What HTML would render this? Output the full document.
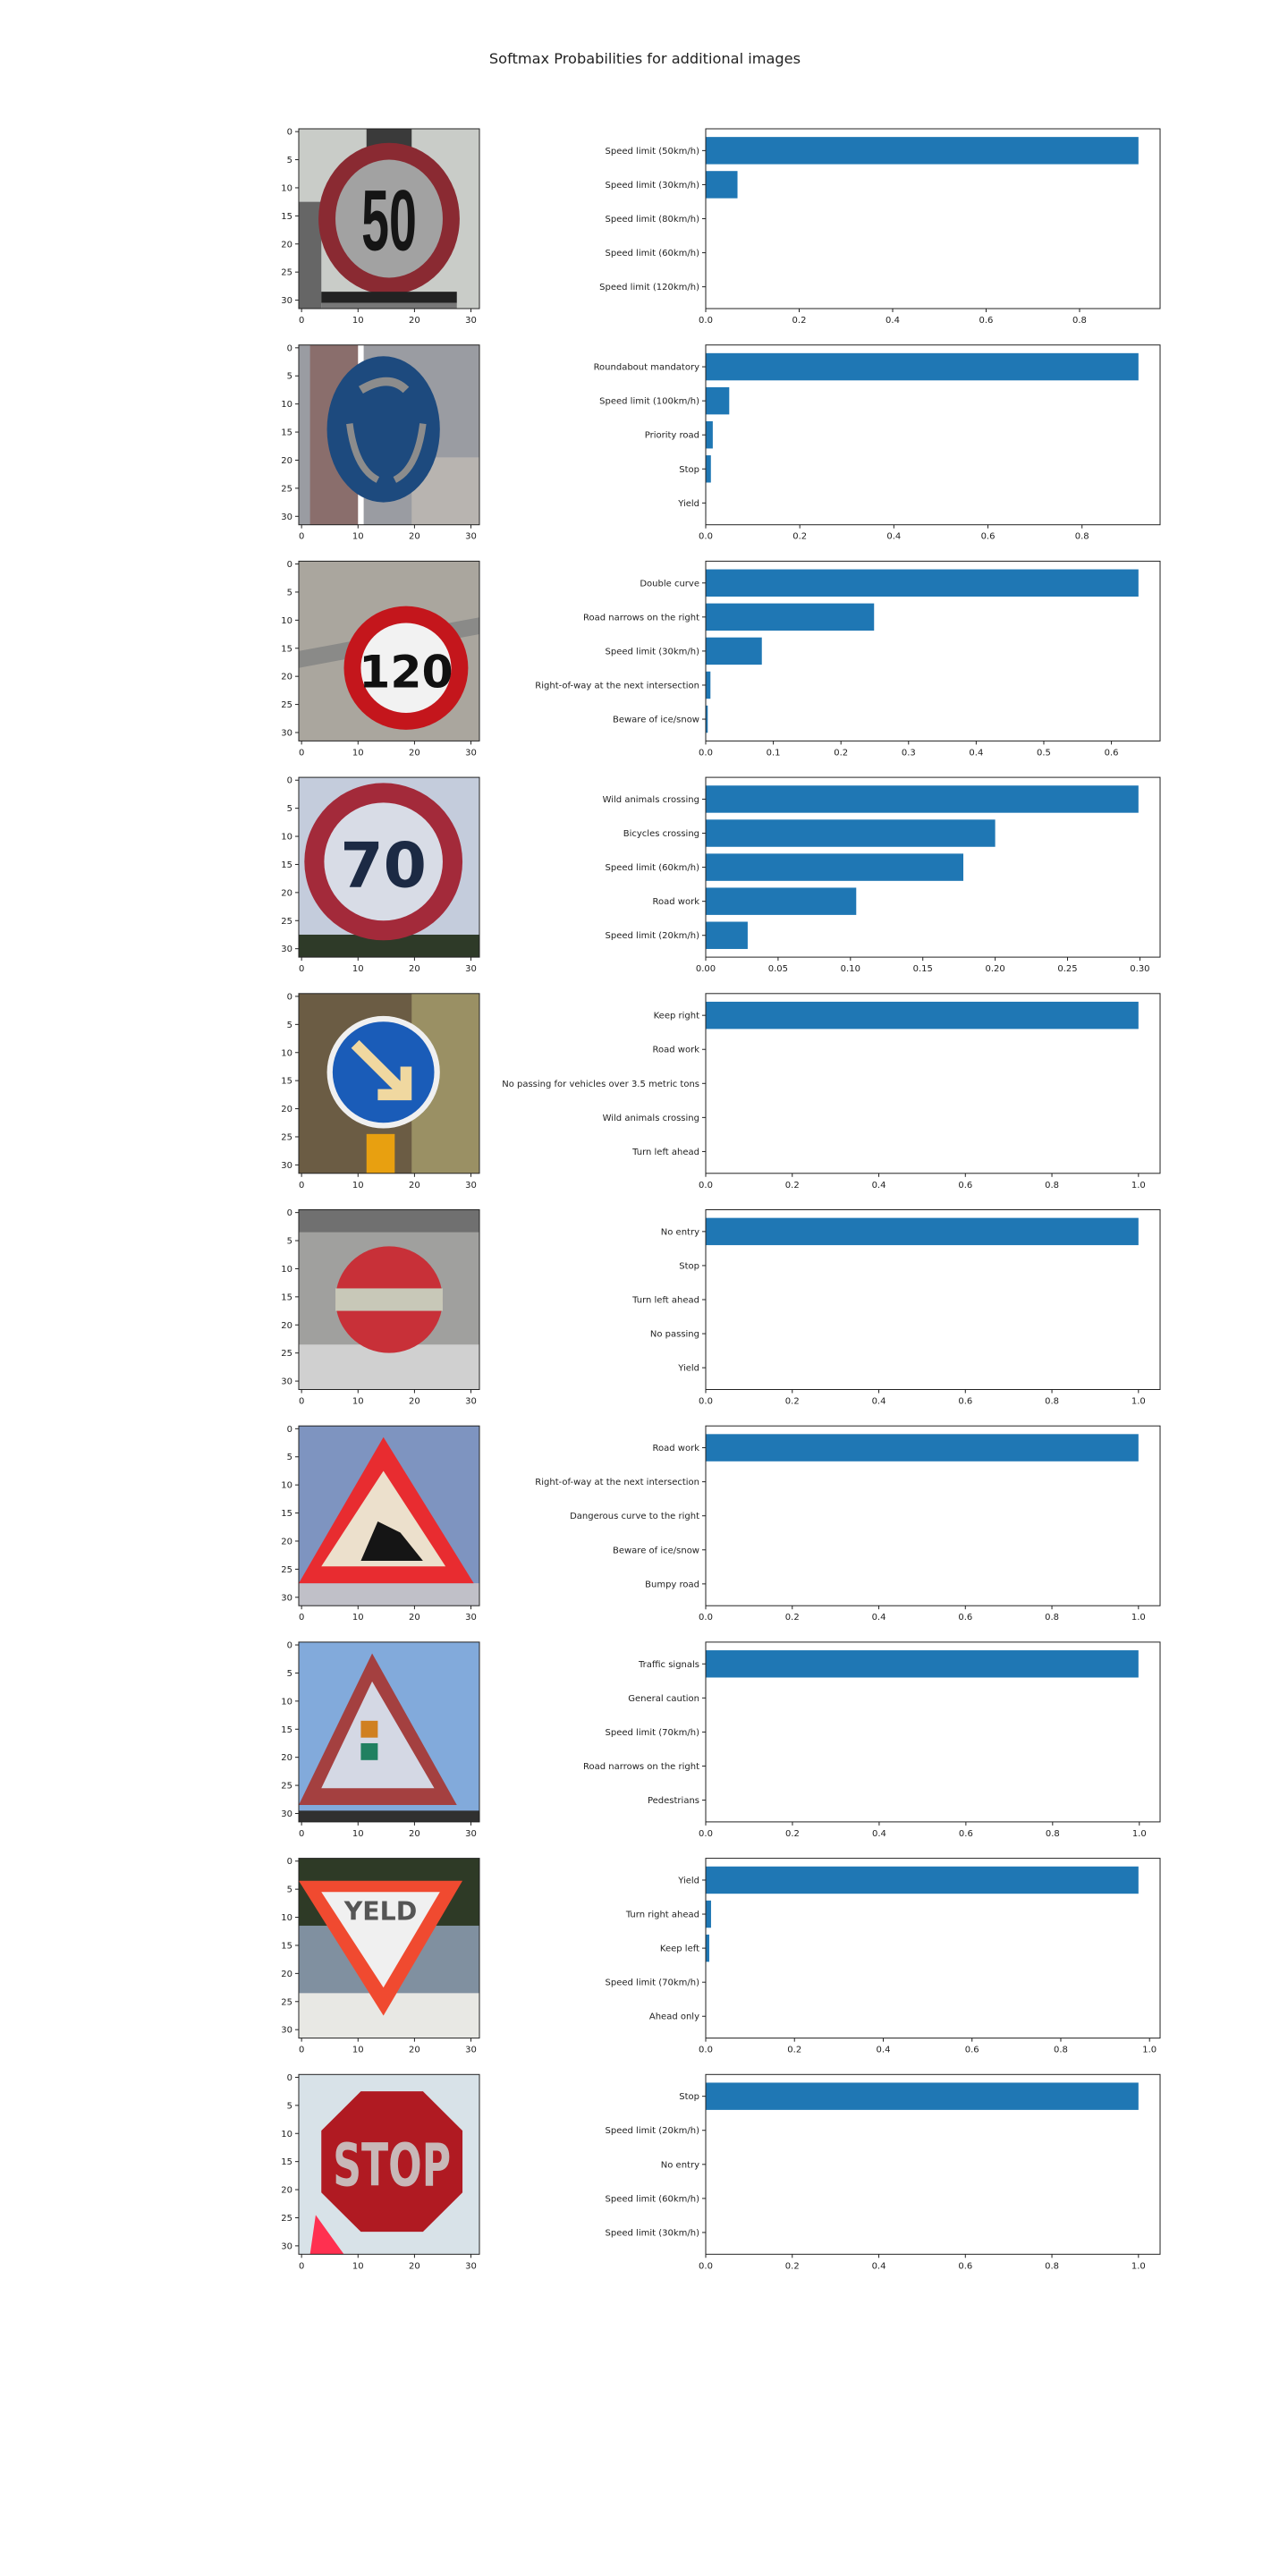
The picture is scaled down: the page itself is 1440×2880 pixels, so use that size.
<!DOCTYPE html>
<html><head><meta charset="utf-8"><style>
html,body{margin:0;padding:0;background:#fff;width:1440px;height:2880px;overflow:hidden}
svg{display:block}
text{font-family:"DejaVu Sans","Liberation Sans",sans-serif;fill:#222}
</style></head><body>
<svg id="fig" width="1440" height="2880" viewBox="0 0 1440 2880" xmlns="http://www.w3.org/2000/svg">
<text x="721" y="71" text-anchor="middle" font-size="16.2">Softmax Probabilities for additional images</text>
</svg>
<script>
const labels1=["Speed limit (50km/h)","Speed limit (30km/h)","Speed limit (80km/h)","Speed limit (60km/h)","Speed limit (120km/h)"];
const values1=[0.926,0.068,0,0,0];
const labels2=["Roundabout mandatory","Speed limit (100km/h)","Priority road","Stop","Yield"];
const values2=[0.92,0.05,0.015,0.011,0.001];
const labels3=["Double curve","Road narrows on the right","Speed limit (30km/h)","Right-of-way at the next intersection","Beware of ice/snow"];
const values3=[0.64,0.249,0.083,0.007,0.003];
const labels4=["Wild animals crossing","Bicycles crossing","Speed limit (60km/h)","Road work","Speed limit (20km/h)"];
const values4=[0.299,0.2,0.178,0.104,0.029];
const labels5=["Keep right","Road work","No passing for vehicles over 3.5 metric tons","Wild animals crossing","Turn left ahead"];
const values5=[1.0,0,0,0,0];
const labels6=["No entry","Stop","Turn left ahead","No passing","Yield"];
const values6=[1.0,0,0,0,0];
const labels7=["Road work","Right-of-way at the next intersection","Dangerous curve to the right","Beware of ice/snow","Bumpy road"];
const values7=[1.0,0,0,0,0];
const labels8=["Traffic signals","General caution","Speed limit (70km/h)","Road narrows on the right","Pedestrians"];
const values8=[0.998,0,0,0,0];
const labels9=["Yield","Turn right ahead","Keep left","Speed limit (70km/h)","Ahead only"];
const values9=[0.975,0.012,0.008,0.001,0];
const labels10=["Stop","Speed limit (20km/h)","No entry","Speed limit (60km/h)","Speed limit (30km/h)"];
const values10=[1.0,0,0,0,0];
const ticksA=[0,0.2,0.4,0.6,0.8];
const ticksB=[0,0.2,0.4,0.6,0.8,1.0];
const ticksC=[0,0.1,0.2,0.3,0.4,0.5,0.6];
const ticksD=[0,0.05,0.1,0.15,0.2,0.25,0.3];
const allLabels=[labels1,labels2,labels3,labels4,labels5,labels6,labels7,labels8,labels9,labels10];
const allValues=[values1,values2,values3,values4,values5,values6,values7,values8,values9,values10];
const allTicks=[ticksA,ticksA,ticksC,ticksD,ticksB,ticksB,ticksB,ticksB,ticksB,ticksB];
const tickDigits=[1,1,1,2,1,1,1,1,1,1];

const NS="http://www.w3.org/2000/svg";
const fig=document.getElementById('fig');
function mk(tag,attrs,parent,txt){const e=document.createElementNS(NS,tag);for(const k in attrs)e.setAttribute(k,attrs[k]);if(txt!==undefined)e.textContent=txt;(parent||fig).appendChild(e);return e;}

const signArt=[
`<rect width="32" height="32" fill="#c9ccc8"/><rect x="0" y="13" width="4" height="19" fill="#666"/><rect x="12" y="0" width="8" height="4" fill="#3a3a3a"/><ellipse cx="16" cy="16" rx="12.5" ry="13.5" fill="#8a2a32"/><ellipse cx="16" cy="16" rx="9.5" ry="10.5" fill="#a2a2a2"/><text x="16" y="20" font-size="11" text-anchor="middle" style="fill:#151515;font-family:'Liberation Sans Narrow','Liberation Sans',sans-serif;font-weight:bold" transform="translate(16 16) scale(0.8 1.4) translate(-16 -16)">50</text><rect x="4" y="29" width="24" height="2" fill="#222"/><rect x="4" y="31" width="24" height="1" fill="#777"/>`,
`<rect width="32" height="32" fill="#9a9ca2"/><rect x="2" y="0" width="9" height="32" fill="#8a6e6c"/><rect x="10.5" y="0" width="1" height="32" fill="#fff"/><rect x="20" y="20" width="12" height="12" fill="#b8b4b0"/><ellipse cx="15" cy="15" rx="10" ry="13" fill="#1d4a7e"/><path d="M11 8 Q16 5 19 8" stroke="#8c8c8c" stroke-width="1.5" fill="none"/><path d="M9 14 Q10 22 14 24 M22 14 Q21 22 17 24" stroke="#8c8c8c" stroke-width="1.2" fill="none"/>`,
`<rect width="32" height="32" fill="#aaa69e"/><path d="M0 16 L32 10 L32 13 L0 19Z" fill="#8a8a88"/><circle cx="19" cy="19" r="11" fill="#c4161c"/><circle cx="19" cy="19" r="8" fill="#f2f2f2"/><text x="19" y="22.5" font-size="8" text-anchor="middle" style="fill:#111;font-weight:bold">120</text>`,
`<rect width="32" height="32" fill="#c4ccdc"/><rect x="0" y="28" width="32" height="4" fill="#2e3a28"/><circle cx="15" cy="15" r="14" fill="#a32a3a"/><circle cx="15" cy="15" r="10.5" fill="#d8dce6"/><text x="15" y="19.5" font-size="11" text-anchor="middle" style="fill:#1c2a44;font-weight:bold">70</text>`,
`<rect width="32" height="32" fill="#6b5c44"/><rect x="20" y="0" width="12" height="32" fill="#9a9064"/><circle cx="15" cy="14" r="10" fill="#f0f0f0"/><circle cx="15" cy="14" r="9" fill="#1a5cb8"/><path d="M10 9 L19 18 M19 13 L19 18 L14 18" stroke="#f0d8a0" stroke-width="2" fill="none"/><rect x="12" y="25" width="5" height="7" fill="#e8a010"/>`,
`<rect width="32" height="32" fill="#a0a09e"/><rect x="0" y="0" width="32" height="4" fill="#707070"/><rect x="0" y="24" width="32" height="8" fill="#d0d0d0"/><circle cx="16" cy="16" r="9.5" fill="#c83038"/><rect x="6.5" y="14" width="19" height="4" fill="#c8c8b8"/>`,
`<rect width="32" height="32" fill="#7e94c0"/><rect x="0" y="28" width="32" height="4" fill="#c0c0c8"/><path d="M15 2 L31 28 L0 28Z" fill="#e82c30"/><path d="M15 8 L26 25 L4 25Z" fill="#ece0cc"/><path d="M11 24 L14 17 L18 19 L22 24Z" fill="#151515"/>`,
`<rect width="32" height="32" fill="#82aadb"/><rect x="0" y="30" width="32" height="2" fill="#303030"/><path d="M13 2 L28 29 L0 29Z" fill="#a44040"/><path d="M13 7 L24 26 L4 26Z" fill="#d4d8e4"/><rect x="11" y="14" width="3" height="3" fill="#d08020"/><rect x="11" y="18" width="3" height="3" fill="#208060"/>`,
`<rect width="32" height="32" fill="#e8e8e4"/><rect x="0" y="0" width="32" height="12" fill="#2e3a26"/><rect x="0" y="12" width="32" height="12" fill="#8090a0"/><path d="M0 4 L29 4 L15 28Z" fill="#f04a30"/><path d="M4 6 L25 6 L15 23Z" fill="#f0f0f0"/><text x="14.5" y="11" font-size="4.5" text-anchor="middle" style="fill:#555;font-weight:bold">YELD</text>`,
`<rect width="32" height="32" fill="#d8e2e8"/><path d="M11 3 L22 3 L29 10 L29 21 L22 28 L11 28 L4 21 L4 10Z" fill="#b01a22"/><text x="16.5" y="18.5" font-size="7" text-anchor="middle" style="fill:#c8b8b8;font-weight:bold" transform="translate(16 16) scale(1 1.5) translate(-16 -16)">STOP</text><path d="M3 25 L8 32 L2 32Z" fill="#ff3050"/>`
];

const ROW0=144, ROWSTEP=241.7, AH=201;
const IX=334, IW=202, BX=789, BW=508;
for(let r=0;r<10;r++){
  const top=ROW0+r*ROWSTEP;
  const g=mk('g',{});
  
  
  const img=mk('svg',{x:IX,y:top,width:IW,height:AH,viewBox:'0 0 32 32',preserveAspectRatio:'none'},g);
  
  
  img.innerHTML=signArt[r];
  const fr=mk('rect',{x:IX,y:top,width:IW,height:AH,fill:'none',stroke:'#222','stroke-width':1},g);
  
  
  const px=IW/32, py=AH/32;
  [0,5,10,15,20,25,30].forEach(v=>{
    const y=top+(v+0.5)*py;
    mk('line',{x1:IX-4,x2:IX,y1:y,y2:y,stroke:'#222'},g);
    const t=mk('text',{x:IX-7,y:y+3.5,'font-size':10,'text-anchor':'end'},g,String(v));
    
    
  });
  [0,10,20,30].forEach(v=>{
    const x=IX+(v+0.5)*px;
    mk('line',{x1:x,x2:x,y1:top+AH,y2:top+AH+4,stroke:'#222'},g);
    const t=mk('text',{x:x,y:top+AH+16,'font-size':10,'text-anchor':'middle'},g,String(v));
    
    
  });
  const vals=allValues[r], labs=allLabels[r], ticks=allTicks[r];
  const xmax=Math.max(...vals)*1.05;
  const xs=v=>BX+v/xmax*BW;
  const ymin=-0.64, ymax=4.64;
  const ys=i=>top+(i-ymin)/(ymax-ymin)*AH;
  vals.forEach((v,i)=>{
    const b=mk('rect',{x:BX,y:ys(i-0.4),width:Math.max(0,xs(v)-BX),height:ys(i+0.4)-ys(i-0.4),fill:'#1f77b4'},g);
    
    
    const y=ys(i);
    mk('line',{x1:BX-4,x2:BX,y1:y,y2:y,stroke:'#222'},g);
    const t=mk('text',{x:BX-7,y:y+3.5,'font-size':10,'text-anchor':'end'},g,labs[i]);
    
    
  });
  ticks.forEach(v=>{
    const x=xs(v);
    mk('line',{x1:x,x2:x,y1:top+AH,y2:top+AH+4,stroke:'#222'},g);
    const t=mk('text',{x:x,y:top+AH+16,'font-size':10,'text-anchor':'middle'},g,v.toFixed(tickDigits[r]));
    
    
  });
  const bf=mk('rect',{x:BX,y:top,width:BW,height:AH,fill:'none',stroke:'#222','stroke-width':1},g);
  
  
}
</script>
</body></html>
